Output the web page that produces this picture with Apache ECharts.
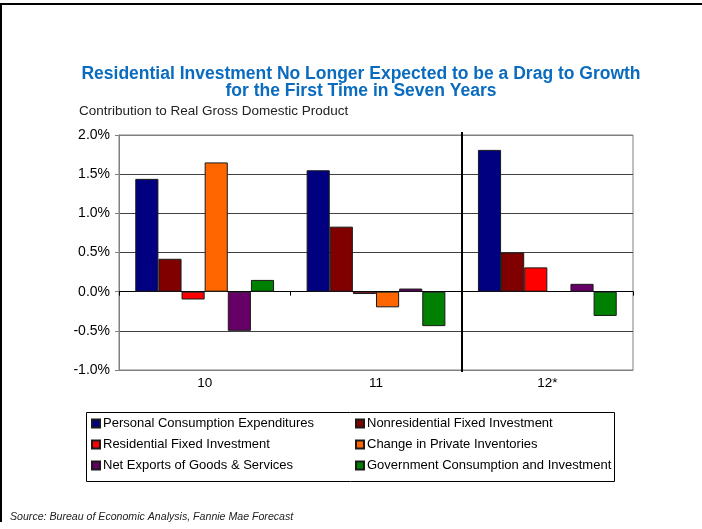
<!DOCTYPE html>
<html>
<head>
<meta charset="utf-8">
<script src="https://cdn.jsdelivr.net/npm/echarts@6/dist/echarts.min.js"></script>
<style>html,body{margin:0;padding:0;background:#fff;}#c{width:702px;height:529px;}</style>
</head>
<body>
<div id="c"></div>
<script>
var categories = ['10', '11', '12*'];
var pce = [1.44, 1.55, 1.81];
var nonresFixed = [0.42, 0.83, 0.50];
var resFixed = [-0.10, -0.03, 0.31];
var inventories = [1.65, -0.20, null];
var netExports = [-0.50, 0.04, 0.10];
var government = [0.15, -0.44, -0.31];
var yTicks = [-1.0, 2.0, 0.5]; // min, max, interval

var FONT = "'Liberation Sans', Arial, sans-serif";
var chart = echarts.init(document.getElementById('c'), null, {renderer: 'canvas'});

function bar(name, data, color) {
  return {
    name: name, type: 'bar', data: data, xAxisIndex: 0, yAxisIndex: 0,
    barGap: '0%', barCategoryGap: '19%',
    itemStyle: {color: color, borderColor: '#1a1a1a', borderWidth: 1},
    emphasis: {disabled: true}
  };
}

var option = {
  animation: false,
  backgroundColor: '#fff',
  textStyle: {fontFamily: FONT},
  title: [
    {
      text: 'Residential Investment No Longer Expected to be a Drag to Growth\nfor the First Time in Seven Years',
      left: 361, top: 66, textAlign: 'center', padding: 0,
      textStyle: {fontFamily: FONT, fontSize: 17.5, fontWeight: 'bold', color: '#0b6cbf', lineHeight: 17}
    },
    {
      text: 'Contribution to Real Gross Domestic Product',
      left: 79, top: 104, padding: 0,
      textStyle: {fontFamily: FONT, fontSize: 13.5, fontWeight: 'normal', color: '#222'}
    },
    {
      text: 'Source: Bureau of Economic Analysis, Fannie Mae Forecast',
      left: 10, top: 512, padding: 0,
      textStyle: {fontFamily: FONT, fontSize: 10.6, fontStyle: 'italic', fontWeight: 'normal', color: '#222'}
    }
  ],
  grid: {left: 119, right: 69, top: 135, bottom: 159, show: true, borderColor: '#808080', borderWidth: 1, backgroundColor: 'transparent'},
  legend: [
    {
      data: ['Personal Consumption Expenditures', 'Residential Fixed Investment', 'Net Exports of Goods & Services'],
      orient: 'vertical', left: 91, top: 417, padding: 0, itemGap: 8,
      itemWidth: 8, itemHeight: 8, icon: 'rect', selectedMode: false,
      textStyle: {fontFamily: FONT, fontSize: 13, color: '#000', padding: [0, 0, 0, -2]}
    },
    {
      data: ['Nonresidential Fixed Investment', 'Change in Private Inventories', 'Government Consumption and Investment'],
      orient: 'vertical', left: 355, top: 417, padding: 0, itemGap: 8,
      itemWidth: 8, itemHeight: 8, icon: 'rect', selectedMode: false,
      textStyle: {fontFamily: FONT, fontSize: 13, color: '#000', padding: [0, 0, 0, -2]}
    }
  ],
  xAxis: [
    {
      type: 'category', data: categories, position: 'bottom',
      axisLine: {onZero: false, lineStyle: {color: '#808080'}},
      axisTick: {show: false},
      axisLabel: {fontFamily: FONT, fontSize: 13.5, color: '#000', margin: 6},
      splitLine: {show: false}
    },
    {
      type: 'category', data: categories, position: 'bottom',
      axisLine: {onZero: true, lineStyle: {color: '#000', width: 1}},
      axisTick: {show: true, length: 4, lineStyle: {color: '#000'}},
      axisLabel: {show: false},
      splitLine: {show: false}
    }
  ],
  yAxis: {
    type: 'value', min: yTicks[0], max: yTicks[1], interval: yTicks[2],
    axisLine: {show: true, lineStyle: {color: '#808080'}},
    axisTick: {show: true, length: 4, lineStyle: {color: '#808080'}},
    axisLabel: {fontFamily: FONT, fontSize: 14, color: '#000', margin: 9,
      formatter: function (v) { return v.toFixed(1) + '%'; }},
    splitLine: {show: true, lineStyle: {color: ['#808080', '#404040', '#000', '#404040', '#404040', '#404040', '#808080'], width: 1}}
  },
  series: [
    bar('Personal Consumption Expenditures', pce, '#000080'),
    bar('Nonresidential Fixed Investment', nonresFixed, '#800000'),
    bar('Residential Fixed Investment', resFixed, '#FF0000'),
    bar('Change in Private Inventories', inventories, '#FF6600'),
    bar('Net Exports of Goods & Services', netExports, '#660066'),
    bar('Government Consumption and Investment', government, '#008000')
  ]
};
chart.setOption(option);

// decorative elements positioned from the axes
var x11 = chart.convertToPixel({xAxisIndex: 0}, categories[1]);
var x12 = chart.convertToPixel({xAxisIndex: 0}, categories[2]);
var divX = Math.round((x11 + x12) / 2);
var yTop = chart.convertToPixel({yAxisIndex: 0}, yTicks[1]);
var yBot = chart.convertToPixel({yAxisIndex: 0}, yTicks[0]);
chart.setOption({
  graphic: [
    {type: 'line', z: 100, shape: {x1: divX, y1: yTop - 3, x2: divX, y2: yBot + 2}, style: {stroke: '#000', lineWidth: 2}},
    {type: 'rect', z: 1, shape: {x: 86.5, y: 412.5, width: 528, height: 69}, style: {fill: 'none', stroke: '#000', lineWidth: 1}},
    {type: 'polyline', z: 100, shape: {points: [[1, 522], [1, 4], [702, 4]]}, style: {stroke: '#000', lineWidth: 2, fill: 'none'}}
  ]
});
</script>
</body>
</html>
